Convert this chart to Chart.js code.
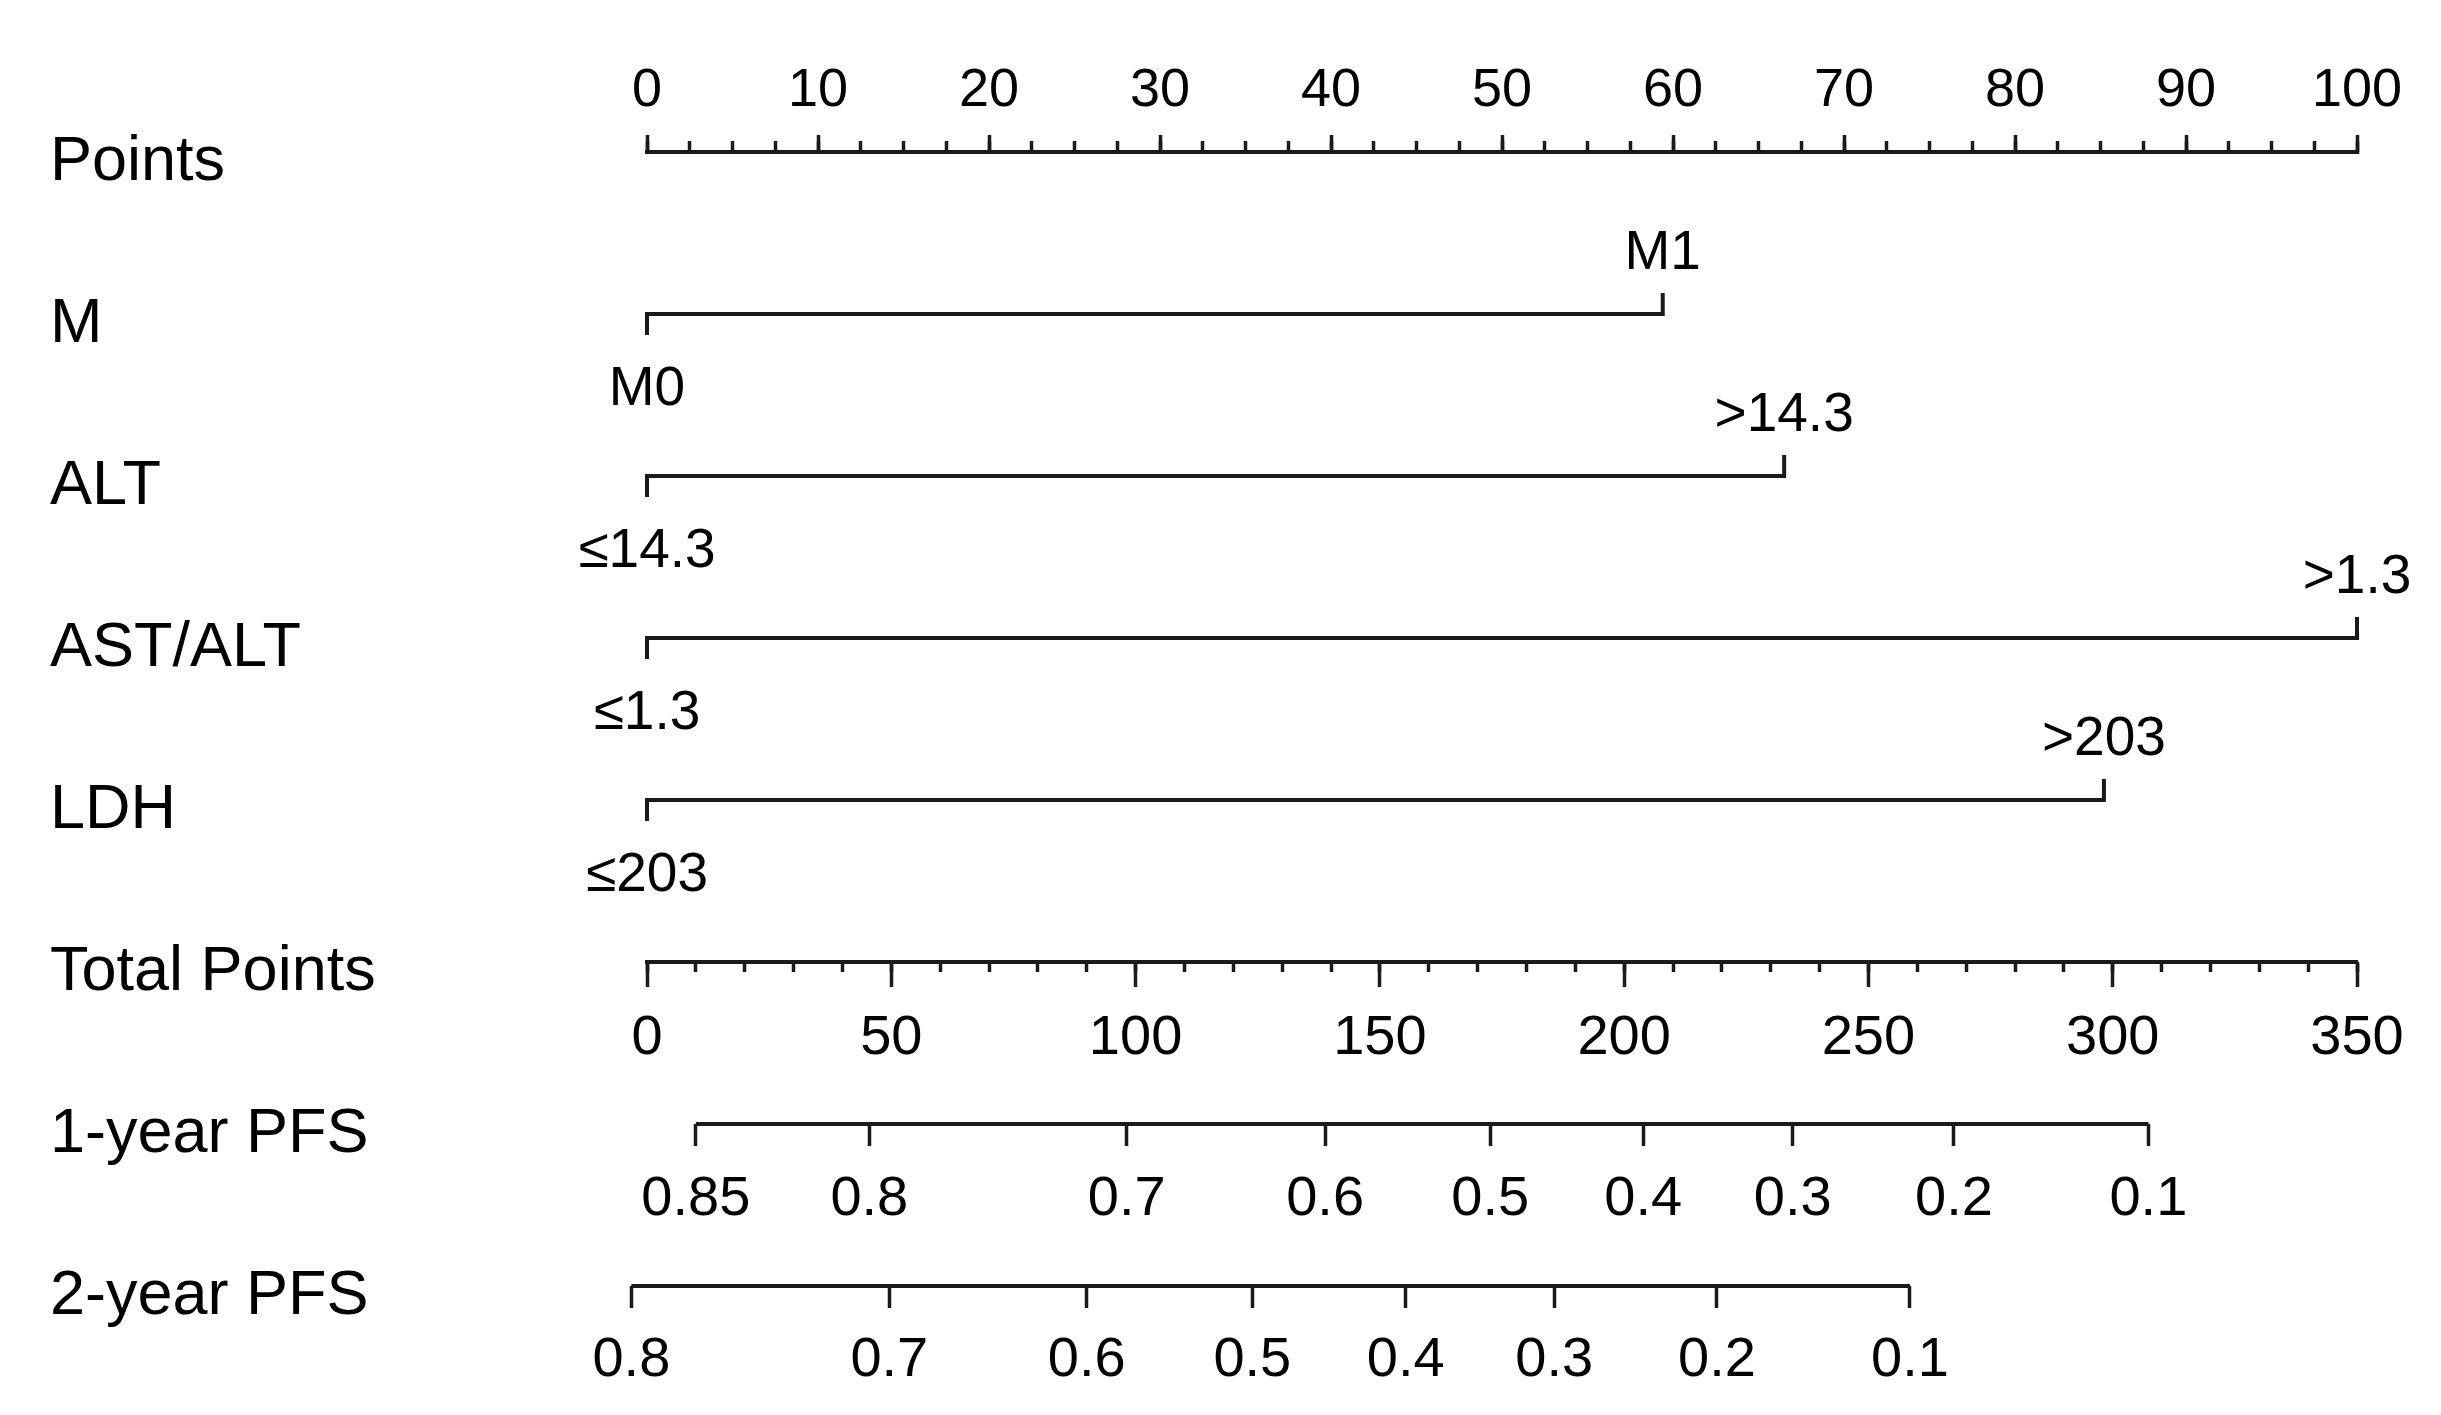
<!DOCTYPE html>
<html>
<head>
<meta charset="utf-8">
<script src="https://cdn.jsdelivr.net/npm/chart.js@4.4.1/dist/chart.umd.min.js"></script>
<style>
  body { margin: 0; background: #fff; }
  #wrap { width: 2441px; height: 1415px; }
</style>
</head>
<body>
<div id="wrap"><canvas id="nomo" width="2441" height="1415"></canvas></div>
<script>
// row names, top to bottom
const rowLabels = ['Points', 'M', 'ALT', 'AST/ALT', 'LDH', 'Total Points', '1-year PFS', '2-year PFS'];

// points scale
const pointTicks = [0, 10, 20, 30, 40, 50, 60, 70, 80, 90, 100];
const pointMinorTicks = [];
for (let v = 0; v <= 100; v += 2.5) pointMinorTicks.push(v);

// factors (low level always at 0 points)
const lowLabels = ['M0', '≤14.3', '≤1.3', '≤203'];
const highLabels = ['M1', '>14.3', '>1.3', '>203'];
const highPoints = [59.4, 66.5, 100, 85.2];

// total points scale
const totalTicks = [0, 50, 100, 150, 200, 250, 300, 350];
const totalMinorTicks = [];
for (let v = 0; v <= 350; v += 10) totalMinorTicks.push(v);

// survival probabilities at total points
const pfs1Labels = ['0.85', '0.8', '0.7', '0.6', '0.5', '0.4', '0.3', '0.2', '0.1'];
const pfs1Points = [10.0, 45.5, 98.2, 138.8, 172.6, 203.9, 234.5, 267.5, 307.3];
const pfs2Labels = ['0.8', '0.7', '0.6', '0.5', '0.4', '0.3', '0.2', '0.1'];
const pfs2Points = [-3.2, 49.6, 90.0, 123.9, 155.3, 185.7, 219.0, 258.5];

const INK = '#1a1a1a';
const FONT = '"Liberation Sans", Arial, sans-serif';
const ROW_PX = 162;           // pixel height of one row
const END_TICK = 21 / ROW_PX; // end tick length in row units

// factor lines: tick down at low end, tick up at high end
const factorSets = highPoints.map((p, i) => {
  const row = i + 1;
  return {
    data: [
      {x: 0, y: row + END_TICK},
      {x: 0, y: row},
      {x: p, y: row},
      {x: p, y: row - END_TICK}
    ],
    xAxisID: 'x', yAxisID: 'y'
  };
});

const pfsSets = [
  {data: [{x: pfs1Points[0], y: 6}, {x: pfs1Points[pfs1Points.length - 1], y: 6}], xAxisID: 'xTot', yAxisID: 'y'},
  {data: [{x: pfs2Points[0], y: 7}, {x: pfs2Points[pfs2Points.length - 1], y: 7}], xAxisID: 'xTot', yAxisID: 'y'}
];

const datasets = factorSets.concat(pfsSets).map(d => Object.assign(d, {
  showLine: true,
  borderColor: INK,
  borderWidth: 4,
  pointRadius: 0,
  borderJoinStyle: 'miter',
  borderCapStyle: 'butt',
  clip: false
}));

function axis(opts) {
  // x axis placed on a row of the y scale
  return {
    type: 'linear',
    axis: 'x',
    position: {y: opts.row},
    min: opts.min,
    max: opts.max,
    afterBuildTicks: s => { s.ticks = opts.values.map(v => ({value: v})); },
    border: {display: opts.border, color: INK, width: 4},
    grid: {
      drawOnChartArea: false,
      drawTicks: true,
      tickLength: opts.tickLength,
      tickColor: INK,
      tickWidth: 3.5
    },
    ticks: {
      display: !!opts.labels,
      autoSkip: false,
      maxRotation: 0,
      padding: opts.padding || 0,
      color: '#000',
      font: {family: FONT, size: opts.size || 56},
      callback: (val, idx) => opts.labels ? opts.labels[idx] : ''
    }
  };
}

const textPlugin = {
  id: 'nomoText',
  afterDraw(chart) {
    const {ctx} = chart;
    const ys = chart.scales.y, xs = chart.scales.x;
    ctx.save();
    ctx.fillStyle = '#000';
    ctx.textBaseline = 'alphabetic';
    ctx.textAlign = 'left';
    ctx.font = '63px ' + FONT;
    rowLabels.forEach((t, i) => ctx.fillText(t, 50, ys.getPixelForValue(i) + 28));

    ctx.textAlign = 'center';
    ctx.font = '55px ' + FONT;
    highPoints.forEach((p, i) => {
      const py = ys.getPixelForValue(i + 1);
      ctx.fillText(lowLabels[i], xs.getPixelForValue(0), py + 91);
      ctx.fillText(highLabels[i], xs.getPixelForValue(p), py - 45);
    });
    ctx.restore();
  }
};

new Chart(document.getElementById('nomo'), {
  type: 'scatter',
  data: {datasets},
  options: {
    responsive: false,
    animation: false,
    layout: {padding: {left: 647, right: 84, top: 152, bottom: 129}},
    plugins: {legend: {display: false}, tooltip: {enabled: false}},
    scales: {
      y: {type: 'linear', min: 0, max: 7, reverse: true, display: false},
      x: axis({row: 0, min: 0, max: 100, values: pointTicks, labels: pointTicks.map(String),
               border: true, tickLength: -19, padding: -74, size: 54}),
      xMinor: axis({row: 0, min: 0, max: 100, values: pointMinorTicks, border: false, tickLength: -11}),
      xTot: axis({row: 5, min: 0, max: 350, values: totalTicks, labels: totalTicks.map(String),
                  border: true, tickLength: 23, padding: 19.5}),
      xTotMinor: axis({row: 5, min: 0, max: 350, values: totalMinorTicks, border: false, tickLength: 10}),
      xPfs1: axis({row: 6, min: 0, max: 350, values: pfs1Points, labels: pfs1Labels,
                   border: false, tickLength: 22, padding: 20}),
      xPfs2: axis({row: 7, min: 0, max: 350, values: pfs2Points, labels: pfs2Labels,
                   border: false, tickLength: 22, padding: 18.5})
    }
  },
  plugins: [textPlugin]
});
</script>
</body>
</html>
